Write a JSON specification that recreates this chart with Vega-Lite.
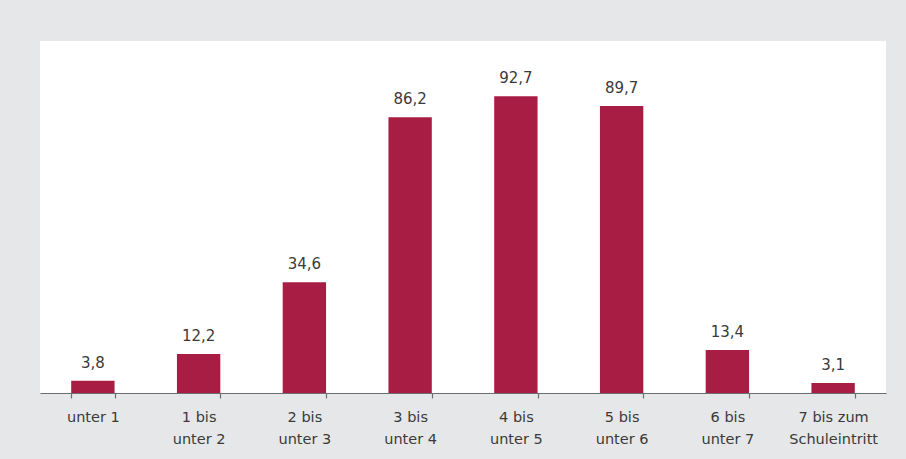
{
  "$schema": "https://vega.github.io/schema/vega-lite/v6.json",
  "autosize": {"type": "none"},
  "width": 846,
  "height": 352,
  "padding": {"left": 40, "top": 41, "right": 20, "bottom": 66},
  "background": "#e6e7e8",
  "config": {
    "view": {"fill": "white", "stroke": null},
    "locale": {"number": {"decimal": ",", "thousands": ".", "grouping": [3], "currency": ["", " €"]}},
    "font": "DejaVu Sans"
  },
  "data": {
    "values": [
      {"gruppe": "unter 1", "wert": 3.8},
      {"gruppe": "1 bis|unter 2", "wert": 12.2},
      {"gruppe": "2 bis|unter 3", "wert": 34.6},
      {"gruppe": "3 bis|unter 4", "wert": 86.2},
      {"gruppe": "4 bis|unter 5", "wert": 92.7},
      {"gruppe": "5 bis|unter 6", "wert": 89.7},
      {"gruppe": "6 bis|unter 7", "wert": 13.4},
      {"gruppe": "7 bis zum|Schuleintritt", "wert": 3.1}
    ]
  },
  "encoding": {
    "x": {
      "field": "gruppe",
      "type": "nominal",
      "sort": null,
      "scale": {"paddingInner": 0.59, "paddingOuter": 0.295},
      "axis": {
        "title": null,
        "labelAngle": 0,
        "labelExpr": "split(datum.label, '|')",
        "labelFont": "DejaVu Sans",
        "labelFontSize": 14.5,
        "labelColor": "#3a3a3a",
        "labelLineHeight": 22,
        "labelPadding": 12,
        "labelBaseline": "top",
        "tickBand": "extent",
        "tickSize": 5,
        "tickColor": "#6d6e71",
        "domainColor": "#6d6e71",
        "tickWidth": 1.2,
        "domainWidth": 1.2
      }
    },
    "y": {
      "field": "wert",
      "type": "quantitative",
      "scale": {"domain": [0, 110]},
      "axis": null
    }
  },
  "layer": [
    {"mark": {"type": "bar", "color": "#a81d43"}},
    {
      "mark": {"type": "text", "baseline": "alphabetic", "dy": -13, "fontSize": 15, "color": "#3a3a3a", "font": "DejaVu Sans"},
      "encoding": {"text": {"field": "wert", "type": "quantitative", "format": ".1f"}}
    }
  ]
}
